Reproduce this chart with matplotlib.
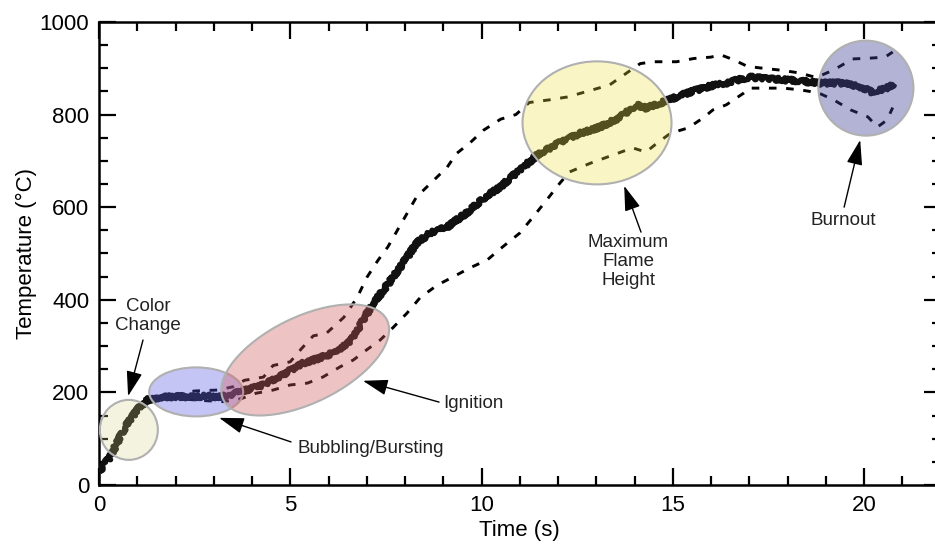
import matplotlib
matplotlib.use("Agg")
import matplotlib.pyplot as plt
from matplotlib.patches import Ellipse
from matplotlib.ticker import MultipleLocator
from matplotlib.transforms import ScaledTranslation

plt.rcParams['font.family'] = ['Liberation Sans', 'DejaVu Sans']

# Mean flame temperature and spread bounds (time in s, temperature in deg C)
main_t = [0.0, 0.15, 0.3, 0.55, 0.8, 1.05, 1.3, 1.6, 2.0, 2.4, 2.8, 3.1, 3.4, 3.85,
          4.3, 4.8, 5.3, 5.8, 6.1, 6.5, 6.8, 7.1, 7.5, 7.95, 8.3, 8.65, 9.1, 9.6,
          10.1, 10.5, 10.75, 11.0, 11.45, 12.0, 12.6, 13.1, 13.6, 14.05, 14.3, 14.75,
          15.4, 16.0, 16.4, 17.0, 17.5, 17.9, 18.4, 18.8, 19.4, 19.9, 20.2, 20.4,
          20.6, 20.8]
main_T = [28, 45, 62, 104, 140, 168, 185, 189, 191, 190, 192, 190, 194, 205,
          216, 238, 262, 275, 285, 305, 340, 384, 428, 479, 522, 544, 557, 587,
          622, 644, 663, 680, 712, 738, 760, 773, 793, 821, 814, 827,
          847, 862, 868, 881, 877, 875, 872, 868, 868, 860, 849, 852,
          857, 868]

upper_t = [2.0, 2.5, 3.1, 3.5, 3.8, 4.3, 4.55, 5.0, 5.3, 5.6, 5.95, 6.4, 6.75, 7.0,
           7.3, 7.55, 7.8, 8.05, 8.3, 8.75, 9.1, 9.35, 9.7, 10.05, 10.5, 10.9, 11.25,
           11.8, 12.25, 12.85, 13.35, 13.8, 14.15, 14.5, 15.1, 15.55, 16.0, 16.25,
           16.6, 16.95, 17.35, 17.8, 18.3, 18.75, 19.2, 19.7, 20.2, 20.55, 20.75]
upper_T = [195, 203, 205, 212, 226, 233, 258, 266, 295, 322, 328, 362, 405, 448,
           486, 514, 550, 586, 622, 658, 686, 716, 739, 766, 790, 800, 826,
           832, 838, 852, 864, 890, 910, 914, 914, 921, 924, 929,
           918, 904, 900, 896, 890, 880, 896, 920, 922, 924, 935]

lower_t = [2.3, 2.8, 3.25, 3.7, 4.1, 4.55, 5.0, 5.45, 5.85, 6.3, 6.65, 7.0, 7.35,
           7.7, 8.05, 8.4, 8.85, 9.25, 9.7, 10.15, 10.55, 11.0, 11.35, 11.7, 12.05,
           12.3, 12.85, 13.45, 13.95, 14.3, 14.6, 14.95, 15.4, 15.8, 16.05, 16.4,
           16.85, 17.0, 17.45, 17.9, 18.35, 18.8, 19.2, 19.65, 20.1, 20.35, 20.6, 20.75]
lower_T = [185, 182, 180, 186, 198, 205, 216, 220, 233, 255, 270, 292, 313,
           341, 371, 405, 432, 449, 469, 486, 514, 544, 579, 615, 652,
           676, 695, 713, 728, 719, 739, 760, 771, 793, 810, 821,
           846, 857, 857, 857, 853, 847, 832, 810, 795, 773, 788, 815]

# Stage highlights: centre (s, deg C), size (in), angle, fill colour, opacity
stage_centers = [(0.78, 119), (2.54, 201), (5.39, 270), (13.02, 782), (20.05, 857)]
stage_sizes = [(0.58, 0.60), (0.94, 0.49), (1.82, 0.86), (1.49, 1.23), (0.95, 0.95)]
stage_angles = [0, 0, 26, 0, 0]
stage_colors = ['#d3d383', '#5656e5', '#d05a5a', '#f0e040', '#434398']
stage_alpha = [0.25, 0.35, 0.36, 0.30, 0.40]

# Stage labels: text, text position, arrow tail, arrow tip, alignment
stage_labels = ['Color\nChange', 'Bubbling/Bursting', 'Ignition',
                'Maximum\nFlame\nHeight', 'Burnout']
label_pos = [(1.28, 365), (5.18, 78), (8.99, 175), (13.83, 482), (19.45, 572)]
arrow_tail = [(1.15, 313), (5.02, 93), (8.89, 179), (14.17, 546), (19.48, 600)]
arrow_tip = [(0.76, 192), (3.14, 145), (6.90, 225), (13.73, 646), (19.90, 745)]
label_ha = ['center', 'left', 'left', 'center', 'center']

fig = plt.figure(figsize=(9.35, 5.48), dpi=100)
ax = fig.add_axes([0.1059, 0.115, 0.9, 0.845])

# thick noisy mean trace, dashed spread bounds
line, = ax.plot(main_t, main_T, color='#111111', lw=4.0, solid_capstyle='butt', zorder=3)
line.set_sketch_params(scale=2.0, length=1.0, randomness=2.0)
ax.plot(upper_t, upper_T, color='black', lw=2.1, dashes=(2.6, 3.3), zorder=2)
ax.plot(lower_t, lower_T, color='black', lw=2.1, dashes=(2.6, 3.3), zorder=2)

ax.set_xlim(0, 22)
ax.set_ylim(0, 1000)

for c, s, a, col, al in zip(stage_centers, stage_sizes, stage_angles,
                            stage_colors, stage_alpha):
    tr = fig.dpi_scale_trans + ScaledTranslation(c[0], c[1], ax.transData)
    ax.add_patch(Ellipse((0, 0), s[0], s[1], angle=a, transform=tr,
                         facecolor=col, alpha=al, lw=0, zorder=4))
    ax.add_patch(Ellipse((0, 0), s[0], s[1], angle=a, transform=tr,
                         facecolor='none', edgecolor='#b0b0b0', lw=1.5, zorder=4))

for txt, pos, tail, tip, ha in zip(stage_labels, label_pos, arrow_tail, arrow_tip, label_ha):
    ax.text(pos[0], pos[1], txt, ha=ha, va='center', fontsize=13.5,
            color='#222222', linespacing=1.15, zorder=6)
    ax.annotate('', xy=tip, xytext=tail,
                arrowprops=dict(arrowstyle='-|>,head_length=1.1,head_width=0.35',
                                mutation_scale=14, color='black', lw=1.0,
                                shrinkA=0, shrinkB=0), zorder=6)

ax.xaxis.set_major_locator(MultipleLocator(5))
ax.xaxis.set_minor_locator(MultipleLocator(1))
ax.yaxis.set_major_locator(MultipleLocator(200))
ax.yaxis.set_minor_locator(MultipleLocator(50))
ax.tick_params(which='both', direction='in', top=True, right=True, width=1.6,
               labelsize=16, pad=7)
ax.tick_params(which='major', length=12)
ax.tick_params(which='minor', length=6.5)
for sp in ax.spines.values():
    sp.set_linewidth(1.8)

ax.set_xlabel('Time (s)', fontsize=16, labelpad=3)
ax.set_ylabel('Temperature (°C)', fontsize=16, labelpad=2)

fig.savefig('out.png', dpi=100)
